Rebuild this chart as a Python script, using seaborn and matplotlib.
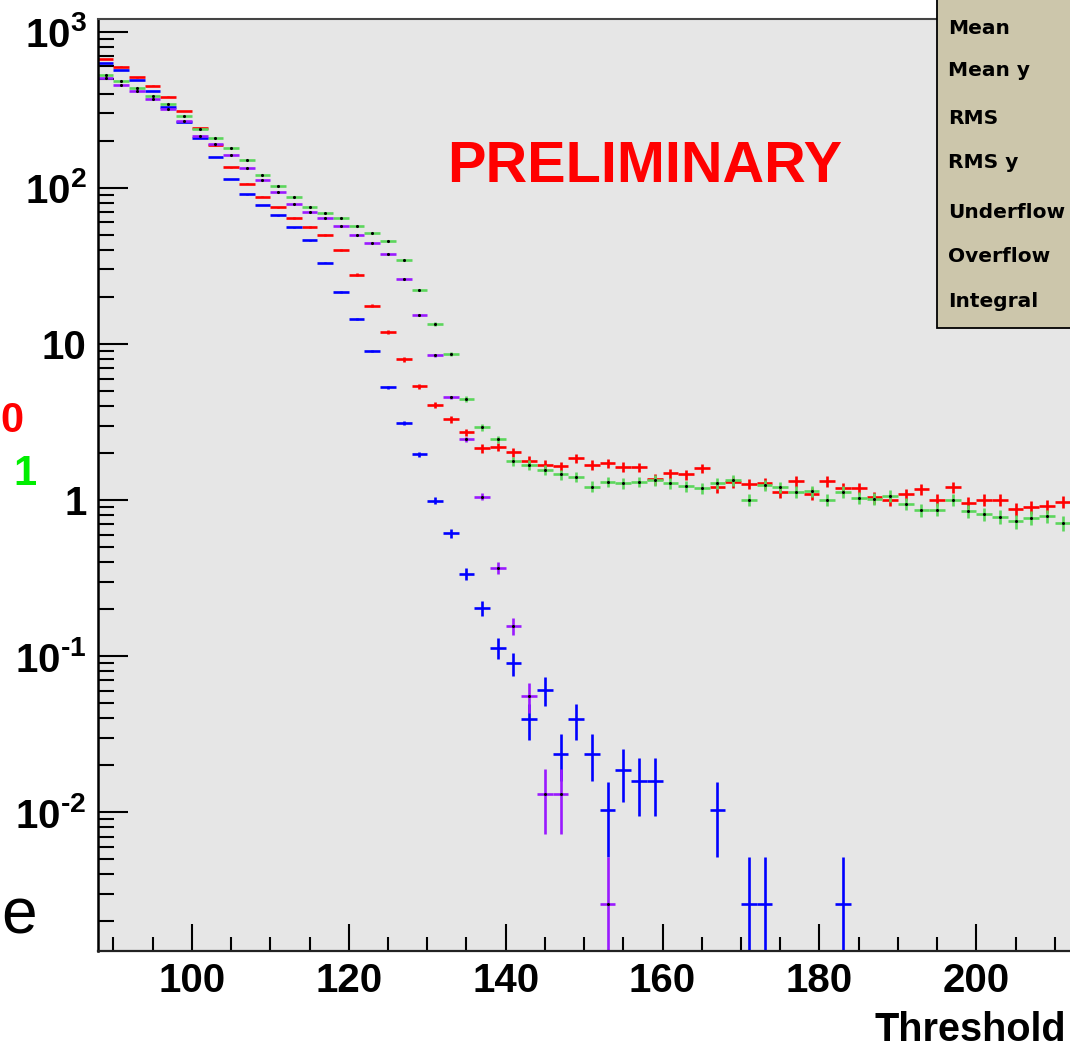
import numpy as np
import pandas as pd
import matplotlib
matplotlib.use("Agg")
import matplotlib.pyplot as plt
import seaborn as sns
from matplotlib.patches import Rectangle
from matplotlib.ticker import FixedLocator, FixedFormatter, MultipleLocator, NullFormatter

# ---------------- data ----------------
bin_centers = list(range(89, 213, 2))  # 62 bins, width 2

red_values = [666, 597, 510, 451, 384, 310, 240, 187, 135, 106,
              87.7, 75, 64.1, 55.9, 49.6, 40, 27.8, 17.6, 11.9, 7.97,
              5.35, 4.08, 3.29, 2.71, 2.14, 2.20, 2.02, 1.79, 1.68, 1.65,
              1.86, 1.68, 1.72, 1.63, 1.62, 1.36, 1.48, 1.46, 1.60, 1.21,
              1.30, 1.27, 1.28, 1.12, 1.32, 1.10, 1.32, 1.19, 1.19, 1.04,
              1.00, 1.09, 1.17, 1.00, 1.21, 0.96, 1.00, 1.00, 0.88, 0.90,
              0.91, 0.975]

green_values = [526, 486, 434, 387, 344, 288, 238, 208, 181, 150,
                121, 103, 87.3, 75.7, 68.7, 64.1, 56.7, 51.1, 45.8, 34.5,
                22.1, 13.4, 8.65, 4.45, 2.92, 2.45, 1.78, 1.68, 1.56, 1.46,
                1.41, 1.22, 1.31, 1.28, 1.31, 1.34, 1.28, 1.23, 1.19, 1.28,
                1.34, 1.00, 1.24, 1.21, 1.13, 1.14, 1.00, 1.13, 1.03, 1.02,
                1.06, 0.95, 0.86, 0.87, 1.00, 0.85, 0.81, 0.78, 0.73, 0.77,
                0.79, 0.71]

nan = float("nan")
blue_values = [633, 569, 491, 417, 330, 263, 208, 158, 114, 91,
               77.6, 66.7, 55.9, 46.3, 33.1, 21.5, 14.4, 9.0, 5.27, 3.11,
               1.97, 0.99, 0.612, 0.336, 0.204, 0.113, 0.090, 0.0394, 0.0607, 0.0238,
               0.0394, 0.0238, 0.0104, 0.0186, 0.0159, 0.0159, nan, nan, nan, 0.0104,
               nan, 0.0026, 0.0026, nan, nan, nan, nan, 0.0026, nan, nan,
               nan, nan, nan, nan, nan, nan, nan, nan, nan, nan,
               nan, nan]

purple_values = [503, 456, 417, 371, 321, 268, 214, 190, 162, 133,
                 112, 94, 78.7, 70, 64.1, 56.7, 49.6, 44.5, 37.8, 26.1,
                 15.4, 8.45, 4.55, 2.45, 1.05, 0.368, 0.156, 0.0555, 0.0131, 0.0131,
                 nan, nan, 0.0026, nan, nan, nan, nan, nan, nan, nan,
                 nan, nan, nan, nan, nan, nan, nan, nan, nan, nan,
                 nan, nan, nan, nan, nan, nan, nan, nan, nan, nan,
                 nan, nan]

# per-entry weights (error = sqrt(sum w^2) as in the histogram)
weight_red_green = 0.008
weight_blue_purple = 0.0026

stats_labels = ["Mean", "Mean y", "RMS", "RMS y", "Underflow", "Overflow", "Integral"]
x_tick_values = [100, 120, 140, 160, 180, 200]
y_tick_values = [1e-2, 1e-1, 1, 10, 1e2, 1e3]
y_tick_labels = [r"$10^{\text{-}2}$", r"$10^{\text{-}1}$", "1", "10", r"$10^{2}$", r"$10^{3}$"]

# ---------------- style ----------------
sns.set_style("ticks")
plt.rcParams["font.family"] = ["Liberation Sans", "DejaVu Sans"]
plt.rcParams["mathtext.fontset"] = "custom"
plt.rcParams["mathtext.rm"] = "Liberation Sans:bold"
plt.rcParams["mathtext.it"] = "Liberation Sans:bold"
plt.rcParams["mathtext.bf"] = "Liberation Sans:bold"
plt.rcParams["mathtext.sf"] = "Liberation Sans:bold"

W, H = 1070, 1047
fig = plt.figure(figsize=(W / 100, H / 100), dpi=100)
fig.patch.set_facecolor("white")

x_lo, x_hi = 88, 220
px_per_unit = 7.845
left_px, top_px, bottom_px = 97.7, 19.3, 950.7
right_px = left_px + (x_hi - x_lo) * px_per_unit
ax = fig.add_axes([left_px / W, 1 - bottom_px / H,
                   (right_px - left_px) / W, (bottom_px - top_px) / H])
ax.set_facecolor("#e6e6e6")
ax.set_yscale("log")
ax.set_xlim(x_lo, x_hi)
ax.set_ylim(1.3e-3, 1200)

series = [
    (red_values, "#ff0000", weight_red_green, False),
    (green_values, "#5cd65c", weight_red_green, True),
    (blue_values, "#0000ff", weight_blue_purple, False),
    (purple_values, "#9a1aff", weight_blue_purple, True),
]

x = np.array(bin_centers, dtype=float)
dot_rows = []
for vals, color, w, dots in series:
    v = np.array(vals, dtype=float)
    m = ~np.isnan(v)
    xv, vv = x[m], v[m]
    err = np.sqrt(vv * w)
    lower = np.where(err >= vv * 0.999, vv - 1e-7, err)
    ax.errorbar(xv, vv, xerr=1.0, yerr=[lower, err], fmt="none",
                ecolor=color, elinewidth=1.9, capsize=0, zorder=2)
    if dots:
        for a, b in zip(xv, vv):
            dot_rows.append({"x": a, "y": b})

df_dots = pd.DataFrame(dot_rows)
sns.scatterplot(data=df_dots, x="x", y="y", color="black", s=5, marker="o",
                linewidth=0, ax=ax, legend=False, zorder=3)
ax.set_xlabel("")
ax.set_ylabel("")

# ticks
ax.xaxis.set_major_locator(FixedLocator(x_tick_values))
ax.xaxis.set_minor_locator(MultipleLocator(5))
ax.yaxis.set_major_locator(FixedLocator(y_tick_values))
ax.yaxis.set_major_formatter(FixedFormatter(y_tick_labels))
minor_y = [k * 10.0 ** e for e in range(-3, 4) for k in range(2, 10)]
ax.yaxis.set_minor_locator(FixedLocator(minor_y))
ax.yaxis.set_minor_formatter(NullFormatter())

ax.tick_params(axis="x", which="major", direction="in", length=19.5, width=1.5,
               pad=8, labelsize=29, color="black", labelcolor="black", top=False)
ax.tick_params(axis="x", which="minor", direction="in", length=10, width=1.5,
               color="black", top=False)
ax.tick_params(axis="y", which="major", direction="in", length=21.5, width=1.5,
               pad=8, labelsize=29, color="black", labelcolor="black", right=False)
ax.tick_params(axis="y", which="minor", direction="in", length=11.5, width=1.5,
               color="black", right=False)
for lab in ax.get_xticklabels() + ax.get_yticklabels():
    lab.set_fontweight("bold")

ax.spines["left"].set_linewidth(1.8)
ax.spines["left"].set_color("black")
ax.spines["bottom"].set_linewidth(1.6)
ax.spines["bottom"].set_color("#222222")
ax.spines["top"].set_linewidth(1.5)
ax.spines["top"].set_color("#444444")
ax.spines["right"].set_visible(True)

# texts
fig.text(645 / W, 1 - 182 / H, "PRELIMINARY", color="#ff0000", fontsize=41.5,
         fontweight="bold", ha="center", va="baseline")
fig.text(24 / W, 1 - 432 / H, "0", color="#ff0000", fontsize=30,
         fontweight="bold", ha="right", va="baseline")
fig.text(37 / W, 1 - 485 / H, "1", color="#00ee00", fontsize=30,
         fontweight="bold", ha="right", va="baseline")
fig.text(1 / W, 1 - 933 / H, "e", color="black", fontsize=46,
         fontweight="normal", ha="left", va="baseline")
fig.text(1066 / W, 1 - 1041 / H, "Threshold", color="black", fontsize=28.5,
         fontweight="bold", ha="right", va="baseline")

# stats box
box = Rectangle((937 / W, 1 - 328 / H), 0.3, 0.5, transform=fig.transFigure,
                facecolor="#ccc6ab", edgecolor="black", linewidth=1.3,
                zorder=10, clip_on=False)
fig.add_artist(box)
stats_y = [28, 70, 118, 162, 212, 257, 302]
for lab, yy in zip(stats_labels, stats_y):
    fig.text(948 / W, 1 - yy / H, lab, fontsize=14.5, fontweight="bold",
             family=["DejaVu Sans"], color="black", ha="left", va="center",
             zorder=11)

fig.savefig("out.png", dpi=100)
